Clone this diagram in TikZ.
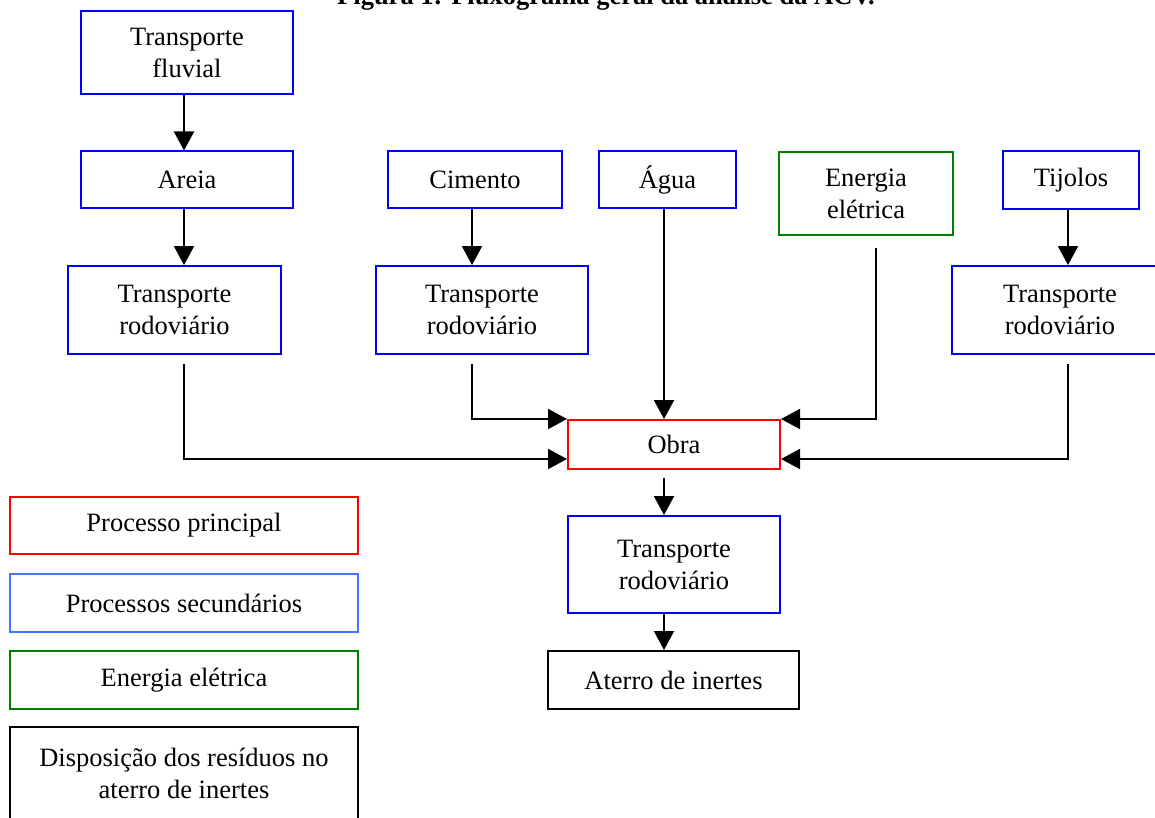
\documentclass[tikz,border=0pt]{standalone}
\usepackage{fontspec}
\setmainfont{Liberation Serif}
\usetikzlibrary{arrows.meta}
\definecolor{pblue}{RGB}{0,0,255}
\definecolor{pred}{RGB}{255,0,0}
\definecolor{pgreen}{RGB}{0,128,0}
\definecolor{lblue}{RGB}{70,115,255}
\begin{document}
\begin{tikzpicture}[x=1pt,y=-1pt,
  box/.style={draw, line width=2pt, inner sep=0pt, align=center,
    font=\fontsize{26.5}{32}\selectfont},
  sec/.style={box, draw=pblue},
  mainp/.style={box, draw=pred},
  elec/.style={box, draw=pgreen},
  disp/.style={box, draw=black},
  arr/.style={line width=2pt, -{Triangle[length=19pt,width=20pt]}}]
\useasboundingbox (0,0) rectangle (1155,818);
\fill[white] (0,0) rectangle (1155,818);
% title (cut off at the top)
\node[anchor=base, inner sep=0pt, font=\bfseries\fontsize{26.5}{32}\selectfont] (title) at (606,4.5) {Figura 1: Fluxograma geral da análise da ACV.};
% column coordinates
\coordinate (c184) at (184,0);
\coordinate (c472) at (472,0);
\coordinate (c664) at (664,0);
\coordinate (c876) at (876,0);
\coordinate (c1068) at (1068,0);
% process nodes
\node[sec, minimum width=212, minimum height=83] (fluv) at (187,52.5) {Transporte\\fluvial};
\node[sec, minimum width=212, minimum height=57] (areia) at (187,180) {Areia};
\node[sec, minimum width=213, minimum height=88] (tr1) at (174.5,310) {Transporte\\rodoviário};
\node[sec, minimum width=174, minimum height=57] (cim) at (475,180) {Cimento};
\node[sec, minimum width=212, minimum height=88] (tr2) at (482,310) {Transporte\\rodoviário};
\node[sec, minimum width=137, minimum height=57] (agua) at (667.5,180) {Água};
\node[elec, minimum width=174, minimum height=83] (ener) at (866,193.5) {Energia\\elétrica};
\node[sec, minimum width=136, minimum height=58] (tij) at (1071,180.5) {Tijolos};
\node[sec, minimum width=216, minimum height=88] (tr3) at (1060,310) {Transporte\\rodoviário};
\node[mainp, minimum width=212, minimum height=49] (obra) at (674,444.5) {Obra};
\node[sec, minimum width=212, minimum height=97] (trb) at (674,564.5) {Transporte\\rodoviário};
\node[disp, minimum width=251, minimum height=58] (ater) at (673.5,680) {Aterro de inertes};
% legend
\node[box, draw=pred, minimum width=348, minimum height=57] (lp) at (184,525.5) {Processo principal};
\node[box, draw=lblue, minimum width=348, minimum height=58] (ls) at (184,603) {Processos secundários};
\node[box, draw=pgreen, minimum width=348, minimum height=58] (le) at (184,680) {Energia elétrica};
\node[box, draw=black, minimum width=348, minimum height=92] (ld) at (184,773) {Disposição dos resíduos no\\aterro de inertes};
% connectors
\draw[arr] (fluv.south -| c184) -- (areia.north -| c184);
\draw[arr] (areia.south -| c184) -- (tr1.north -| c184);
\draw[arr] (cim.south -| c472) -- (tr2.north -| c472);
\draw[arr] (tij.south -| c1068) -- (tr3.north -| c1068);
\draw[arr] (agua.south -| c664) -- (obra.north -| c664);
\draw[arr] ([yshift=-9pt]tr1.south -| c184) |- ([yshift=11pt]obra.south west);
\draw[arr] ([yshift=-9pt]tr2.south -| c472) |- (obra.north west);
\draw[arr] ([yshift=-12pt]ener.south -| c876) |- (obra.north east);
\draw[arr] ([yshift=-9pt]tr3.south -| c1068) |- ([yshift=11pt]obra.south east);
\draw[arr] ([yshift=-8pt]obra.south -| c664) -- (trb.north -| c664);
\draw[arr] (trb.south -| c664) -- (ater.north -| c664);
\end{tikzpicture}
\end{document}
